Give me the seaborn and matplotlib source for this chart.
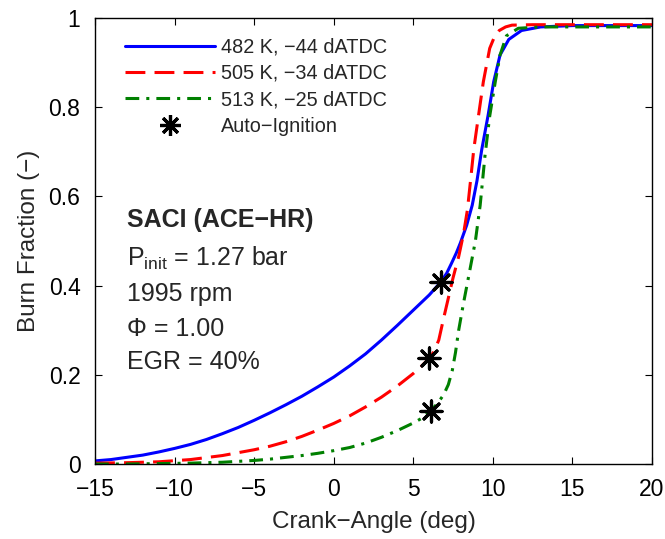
import matplotlib
matplotlib.use("Agg")
import matplotlib.pyplot as plt
from matplotlib.lines import Line2D
import numpy as np
import pandas as pd
import seaborn as sns

# ---------------- data ----------------
blue_x = [-15, -14, -13, -12, -11, -10, -9, -8, -7, -6, -5, -4, -3, -2, -1, 0, 1, 2, 3, 4, 5, 6,
          6.75, 7.1, 7.4, 7.7, 7.95, 8.35, 8.7, 9.0, 9.3, 9.7, 10.05, 10.45, 11.0, 11.8, 13.0,
          15.0, 20.0]
blue_y = [0.007, 0.010, 0.015, 0.020, 0.027, 0.035, 0.044, 0.055, 0.068, 0.082, 0.098, 0.115,
          0.133, 0.152, 0.173, 0.195, 0.220, 0.247, 0.278, 0.311, 0.345, 0.379, 0.409, 0.428,
          0.450, 0.473, 0.495, 0.535, 0.58, 0.635, 0.705, 0.782, 0.857, 0.917, 0.952, 0.972,
          0.980, 0.983, 0.983]

red_x = [-15, -13, -11, -9, -7, -5, -4, -3, -2, -1, 0, 1, 2, 3, 4, 5, 5.5, 6.0, 6.3, 6.6,
         6.9, 7.2, 7.5, 7.85, 8.15, 8.4, 8.6, 8.8, 9.1, 9.4, 9.8, 10.1, 10.4, 10.8, 11.2,
         12.5, 20.0]
red_y = [0.002, 0.003, 0.005, 0.010, 0.019, 0.032, 0.040, 0.050, 0.062, 0.076, 0.091, 0.108,
         0.128, 0.150, 0.175, 0.203, 0.219, 0.237, 0.252, 0.278, 0.326, 0.372, 0.418, 0.465,
         0.515, 0.57, 0.637, 0.706, 0.782, 0.857, 0.932, 0.958, 0.972, 0.980, 0.984, 0.985,
         0.985]

green_x = [-15, -13, -11, -9, -7, -5, -4, -3, -2, -1, 0, 1, 2, 3, 4, 5, 5.6, 6.1, 6.5, 6.9,
           7.2, 7.45, 7.65, 7.85, 8.15, 8.5, 8.9, 9.2, 9.5, 9.8, 10.15, 10.45, 10.85, 11.6,
           13.0, 20.0]
green_y = [0.000, 0.000, 0.001, 0.002, 0.004, 0.008, 0.011, 0.015, 0.019, 0.024, 0.030, 0.037,
           0.047, 0.060, 0.075, 0.092, 0.104, 0.12, 0.135, 0.155, 0.178, 0.21, 0.25, 0.30,
           0.36, 0.425, 0.50, 0.58, 0.69, 0.78, 0.857, 0.917, 0.96, 0.977, 0.980, 0.980]

ign_x = [6.75, 6.0, 6.1]
ign_y = [0.409, 0.237, 0.12]

labels = ["482 K, \u221244 dATDC", "505 K, \u221234 dATDC", "513 K, \u221225 dATDC"]
ign_label = "Auto\u2212Ignition"

x_ticks = [-15, -10, -5, 0, 5, 10, 15, 20]
x_tick_labels = ["\u221215", "\u221210", "\u22125", "0", "5", "10", "15", "20"]
y_ticks = [0, 0.2, 0.4, 0.6, 0.8, 1.0]
y_tick_labels = ["0", "0.2", "0.4", "0.6", "0.8", "1"]

info_lines = ["SACI (ACE\u2212HR)", "P$_{\\rm init}$ = 1.27 bar", "1995 rpm",
              "\u03a6 = 1.00", "EGR = 40%"]

# ---------------- style ----------------
sns.set_style("ticks")
plt.rcParams["font.family"] = ["Liberation Sans", "DejaVu Sans"]
plt.rcParams["mathtext.fontset"] = "custom"
plt.rcParams["mathtext.rm"] = "Liberation Sans"
plt.rcParams["mathtext.it"] = "Liberation Sans:italic"
plt.rcParams["mathtext.bf"] = "Liberation Sans:bold"

fig = plt.figure(figsize=(6.65, 5.39), dpi=100)
ax = fig.add_axes([0.1429, 0.1391, 0.8376, 0.8275])

lw = 2.2
colors = ["#0000ff", "#ff0000", "#008000"]
styles = ["-", (0, (6.5, 3.0)), (0, (4.5, 2.3, 1.0, 2.3))]

series = [(blue_x, blue_y), (red_x, red_y), (green_x, green_y)]
for (xs, ys), c, ls, lab in zip(series, colors, styles, labels):
    df = pd.DataFrame({"x": xs, "y": ys})
    sns.lineplot(data=df, x="x", y="y", ax=ax, color=c, linewidth=lw,
                 linestyle=ls, legend=False, zorder=2)

star = (8, 2, 0)
sns.scatterplot(x=ign_x, y=ign_y, ax=ax, marker=star, s=230, color="black",
                linewidth=2.3, zorder=5, legend=False)

ax.set_xlim(-15, 20)
ax.set_ylim(0, 1)
ax.set_xticks(x_ticks)
ax.set_xticklabels(x_tick_labels)
ax.set_yticks(y_ticks)
ax.set_yticklabels(y_tick_labels)
ax.tick_params(direction="in", top=True, right=True, length=5, width=0.8,
               labelsize=16.5, colors="black")
ax.tick_params(axis="x", pad=10)
ax.tick_params(axis="y", pad=10.5)
for sp in ax.spines.values():
    sp.set_color("black")
    sp.set_linewidth(1.0)

ax.set_xlabel("Crank\u2212Angle (deg)", fontsize=17.5, labelpad=7)
ax.set_ylabel("Burn Fraction (\u2212)", fontsize=17.5, labelpad=6)

# legend
handles = [Line2D([], [], color=c, linewidth=lw, linestyle=ls) for c, ls in zip(colors, styles)]
handles.append(Line2D([], [], color="black", marker=star, markersize=15,
                      markeredgewidth=2.3, linestyle="none"))
ax.legend(handles, labels + [ign_label], loc="upper left",
          bbox_to_anchor=(0.054, 0.956), borderaxespad=0, borderpad=0,
          frameon=False, fontsize=14.3, handlelength=4.55, handletextpad=0.3,
          labelspacing=0.37)

# annotation text
info_y = [0.548, 0.462, 0.382, 0.302, 0.228]
for i, (t, yy) in enumerate(zip(info_lines, info_y)):
    ax.text(-13.0, yy, t, fontsize=18, va="center", ha="left",
            fontweight="bold" if i == 0 else "normal")

fig.savefig("out.png", dpi=100)
